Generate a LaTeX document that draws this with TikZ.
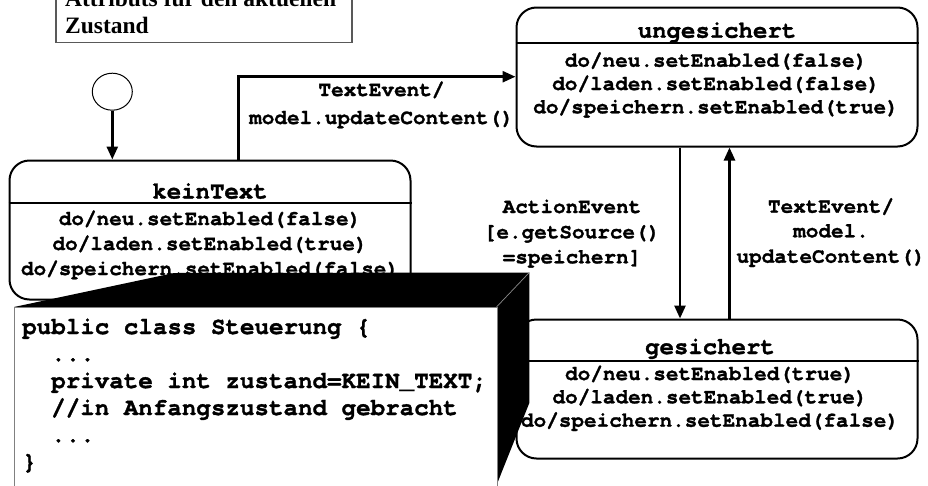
\documentclass[tikz,border=0pt]{standalone}
\usepackage{fontspec}
\setmainfont{Liberation Serif}
\setmonofont{texgyrecursor-regular.otf}[BoldFont=texgyrecursor-bold.otf, BoldFeatures={FakeBold=1.3}]
\usetikzlibrary{arrows.meta,shapes.geometric}
\newcommand\stbody{\ttfamily\bfseries\fontsize{21}{24}\selectfont}
\newcommand\sttitle{\ttfamily\bfseries\fontsize{24}{27}\selectfont}
\newcommand\stcode{\ttfamily\bfseries\fontsize{24.2}{27}\selectfont}
\newcommand\stnote{\rmfamily\bfseries\fontsize{23.5}{27}\selectfont}
\begin{document}
\begin{tikzpicture}[x=1pt,y=-1pt,
  statebox/.style={draw, line width=2pt, rounded corners=20pt, minimum width=401pt, minimum height=139pt, inner sep=0pt},
  sep/.style={line width=2pt},
  ttl/.style={font=\sttitle, anchor=base, inner sep=0pt},
  bdy/.style={font=\stbody, anchor=base, inner sep=0pt},
  lbl/.style={font=\stbody, anchor=base, inner sep=0pt},
  code/.style={font=\stcode, anchor=base west, inner sep=0pt},
  note/.style={font=\stnote, anchor=base west, inner sep=0pt},
  arr/.style={line width=2.6pt, -{Triangle[length=13pt,width=11pt]}},
]
\useasboundingbox (0,0) rectangle (928,485);
\fill[white] (0,0) rectangle (928,485);

% note box at top
\node[draw=black!65, line width=1.3pt, minimum width=296pt, minimum height=64pt, inner sep=0pt] (notebox) at (204,10.7) {};
\node[note] (note1) at (65,6) {Attributs für den aktuellen};
\node[note] (note2) at (65,33) {Zustand};

% initial state
\node[draw, ellipse, line width=1pt, minimum width=40pt, minimum height=37pt, inner sep=0pt] (init) at (112.3,91.7) {};

% state keinText
\node[statebox] (kein) at (210,230) {};
\draw[sep] (kein.west |- 0,203.3) -- (kein.east |- 0,203.3);
\node[ttl] (keint) at (210,198.5) {keinText};
\node[bdy] (kein1) at (210,225) {do/neu.setEnabled(false)};
\node[bdy] (kein2) at (210,250) {do/laden.setEnabled(true)};
\node[bdy] (kein3) at (210,275) {do/speichern.setEnabled(false)};

% state ungesichert
\node[statebox] (unges) at (717,77) {};
\draw[sep] (unges.west |- 0,43.3) -- (unges.east |- 0,43.3);
\node[ttl] (ungest) at (717,37.7) {ungesichert};
\node[bdy] (unges1) at (716,66.7) {do/neu.setEnabled(false)};
\node[bdy] (unges2) at (716,90) {do/laden.setEnabled(false)};
\node[bdy] (unges3) at (716,113.3) {do/speichern.setEnabled(true)};

% state gesichert
\node[statebox] (ges) at (717,389) {};
\draw[sep] (ges.west |- 0,361) -- (ges.east |- 0,361);
\node[ttl] (gest) at (710,354) {gesichert};
\node[bdy] (ges1) at (710,380) {do/neu.setEnabled(true)};
\node[bdy] (ges2) at (710,403.3) {do/laden.setEnabled(true)};
\node[bdy] (ges3) at (710,426.7) {do/speichern.setEnabled(false)};

% transitions
\draw[arr] (init.south) -- (init.south |- kein.north);

\coordinate (corner) at (238.3,76.7);
\draw[arr] (corner |- kein.north) -- (corner) -- (corner -| unges.west);
\node[lbl] (t1a) at (381.5,96) {TextEvent/};
\node[lbl] (t1b) at (381.5,124) {model.updateContent()};

\coordinate (xdown) at (680,0);
\coordinate (xup) at (729.5,0);
\draw[arr] (xdown |- unges.south) -- (xdown |- ges.north);
\draw[arr] (xup |- ges.north) -- (xup |- unges.south);
\node[lbl] (t2a) at (572,213) {ActionEvent};
\node[lbl] (t2b) at (572,238.3) {[e.getSource()};
\node[lbl] (t2c) at (572,263.3) {=speichern]};
\node[lbl] (t3a) at (831,212.7) {TextEvent/};
\node[lbl] (t3b) at (831,237.3) {model.};
\node[lbl] (t3c) at (831,262.7) {updateContent()};

% 3D code box
\fill[black] (14,307) -- (174,273) -- (529.3,272.5) -- (529.3,403) -- (497,484) -- (497,307) -- cycle;
\draw[black!45, line width=0.7pt] (496.5,307) -- (529.3,272.5);
\node[draw=black!50, line width=1.2pt, fill=white, anchor=north west, minimum width=483pt, minimum height=190pt, inner sep=0pt] (codebox) at (14,306.8) {};
\node[code] (c1) at (22,334) {public class Steuerung \{};
\node[code] (c2) at (51,361) {...};
\node[code] (c3) at (51,388) {private int zustand=KEIN\_TEXT;};
\node[code] (c4) at (51,415) {//in Anfangszustand gebracht};
\node[code] (c5) at (51,442) {...};
\node[code] (c6) at (22,469) {\}};
\end{tikzpicture}
\end{document}
